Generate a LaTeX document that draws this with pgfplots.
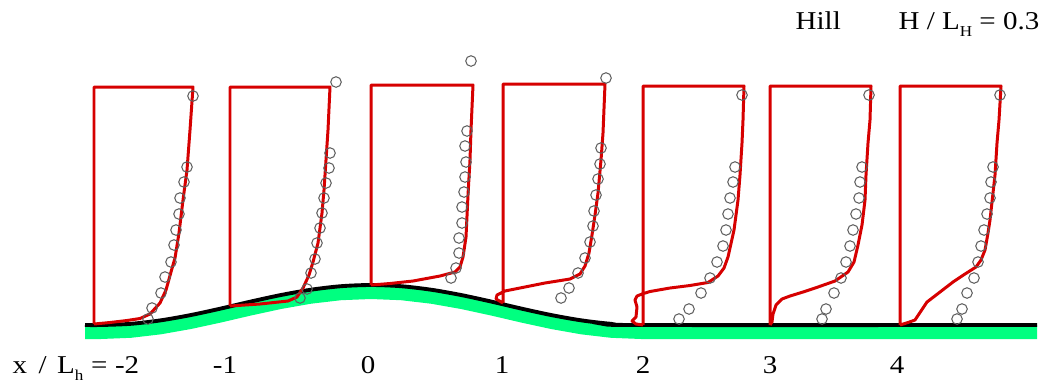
\documentclass[border=0pt]{standalone}
\usepackage{pgfplots}
\pgfplotsset{compat=1.18}
\usepackage{fontspec}
\setmainfont{Liberation Serif}[FakeStretch=1.13]
\definecolor{profred}{RGB}{214,0,0}
\definecolor{groundgreen}{RGB}{0,255,128}
\definecolor{circgray}{RGB}{95,95,95}
\newcommand\sub[1]{\raisebox{-2pt}{\fontsize{4.3}{5}\selectfont #1}}
\begin{document}
\begin{tikzpicture}
\begin{axis}[width=10.46cm,height=3.9cm,scale only axis,
  xmin=0,xmax=1046,ymin=0,ymax=390,y dir=reverse,
  hide axis,clip=false,
  font=\fontsize{7.3}{8.5}\selectfont]
\path[draw=none] (rel axis cs:0,0) rectangle (rel axis cs:1,1);
% green ground band
\addplot[fill=groundgreen,draw=none] coordinates {
(85,325) (101,325) (131,323.8) (161,320.3) (191,315) (221,308.5) (251,301.5) (281,295) (311,289.7) (341,286.2) (371,285) (401,286.2) (431,289.7) (461,295) (491,301.5) (521,308.5) (551,315) (581,320.3) (611,323.8) (641,325) (1037,325)
(1037,339) (641,339) (611,337.8) (581,334.3) (551,329) (521,322.5) (491,315.5) (461,309) (431,303.7) (401,300.2) (371,299) (341,300.2) (311,303.7) (281,309) (251,315.5) (221,322.5) (191,329) (161,334.3) (131,337.8) (101,339) (85,339)} --cycle;
% black ground line
\addplot[black,line width=1.1pt,smooth] coordinates {
(85,325) (101,325) (131,323.8) (161,320.3) (191,315) (221,308.5) (251,301.5) (281,295) (311,289.7) (341,286.2) (371,285) (401,286.2) (431,289.7) (461,295) (491,301.5) (521,308.5) (551,315) (581,320.3) (611,323.8) (641,325) (1037,325)};
% profiles
\pgfplotsset{prof/.style={profred,line width=0.85pt,line join=round}}
\addplot[prof] coordinates {(94,324) (94,87) (193,87) (190,130) (187,170) (183,200) (179,233) (175,258) (171,272) (166,290) (160,303) (150,314) (140,318.5) (127,320.5) (110,322.5) (94,324)};
\addplot[prof] coordinates {(230,306) (230,87) (330,87) (328,130) (326,160) (324,190) (322,213) (318,243) (313,262) (309,275) (303,288) (297,297) (288,301) (260,304) (230,306)};
\addplot[prof] coordinates {(371,285) (371,85) (473,85) (471,130) (470,160) (468,195) (466,237) (463,257) (460,267) (455,272) (440,276) (413,281) (390,283.5) (371,285)};
\addplot[prof] coordinates {(503,303) (503,84) (605,84) (603,133) (601,160) (598,193) (595,215) (592,235) (589,253) (585,266) (580,274) (570,279) (545,283) (520,288) (505,291) (497,295) (496,299) (503,303)};
\addplot[prof] coordinates {(643,325) (643,86) (744,86) (743,120) (742,143) (740,175) (738,200) (734,230) (728,257) (724,268) (718,276) (708,282.5) (690,285.5) (670,288) (650,291.5) (642,294) (637,296) (635,300) (637,307) (636,317) (632,321) (636,324) (643,325)};
\addplot[prof] coordinates {(770,325) (770,86) (871,86) (870,120) (868,143) (866,175) (865,200) (862,225) (858,245) (854,262) (848,272) (835,281) (818,287) (803,292) (790,296) (782,299) (776,305) (773,314) (772,322) (770,325)};
\addplot[prof] coordinates {(900,325) (900,86) (1001,86) (999,120) (997,143) (995,175) (993,193) (990,220) (988,233) (985,250) (981,260) (976,267) (965,274) (953,282) (940,292) (927,302) (915,320) (908,322.5) (900,325)};
% circles
\pgfplotsset{circ/.style={only marks,mark=o,mark size=1.5pt,circgray,mark options={line width=0.3pt}}}
\addplot[circ] coordinates {(193,96) (187,167) (184,182) (180,198) (179,214) (176,230) (174,245) (171,262) (165,277) (161,293) (152,308) (148,319)};
\addplot[circ] coordinates {(336,82) (330,153) (329,168) (326,183) (324,198) (322,213) (320,228) (317,243) (315,259) (311,273) (307,289) (300,298)};
\addplot[circ] coordinates {(471,61) (467,131) (465,146) (466,162) (465,177) (464,192) (462,207) (462,223) (459,238) (459,253) (456,268) (451,278)};
\addplot[circ] coordinates {(606,78) (601,148) (600,164) (598,179) (596,195) (594,211) (593,226) (590,242) (585,258) (578,273) (569,288) (561,298)};
\addplot[circ] coordinates {(742,95) (735,167) (733,182) (730,198) (728,214) (726,230) (723,246) (717,262) (710,278) (701,293) (689,309) (679,319)};
\addplot[circ] coordinates {(869,95) (862,167) (860,182) (859,198) (856,214) (853,230) (850,246) (846,262) (841,278) (834,293) (826,309) (822,319)};
\addplot[circ] coordinates {(1000,95) (993,167) (991,182) (990,198) (987,214) (984,230) (981,246) (978,262) (974,278) (967,293) (962,309) (957,319)};
% labels
\node[anchor=base west,inner sep=0pt] at (axis cs:12,373) {x\hspace{0.45em}/\hspace{0.4em}L\sub{h}\hspace{0.3em}=\hspace{0.3em}-2};
\node[anchor=base,inner sep=0pt] at (axis cs:225,373) {-1};
\node[anchor=base,inner sep=0pt] at (axis cs:368,373) {0};
\node[anchor=base,inner sep=0pt] at (axis cs:502,373) {1};
\node[anchor=base,inner sep=0pt] at (axis cs:643,373) {2};
\node[anchor=base,inner sep=0pt] at (axis cs:770,373) {3};
\node[anchor=base,inner sep=0pt] at (axis cs:897,373) {4};
\node[anchor=base west,inner sep=0pt] at (axis cs:795,29) {Hill};
\node[anchor=base west,inner sep=0pt] at (axis cs:898,29) {H / L\sub{H} = 0.3};
\end{axis}
\end{tikzpicture}
\end{document}
